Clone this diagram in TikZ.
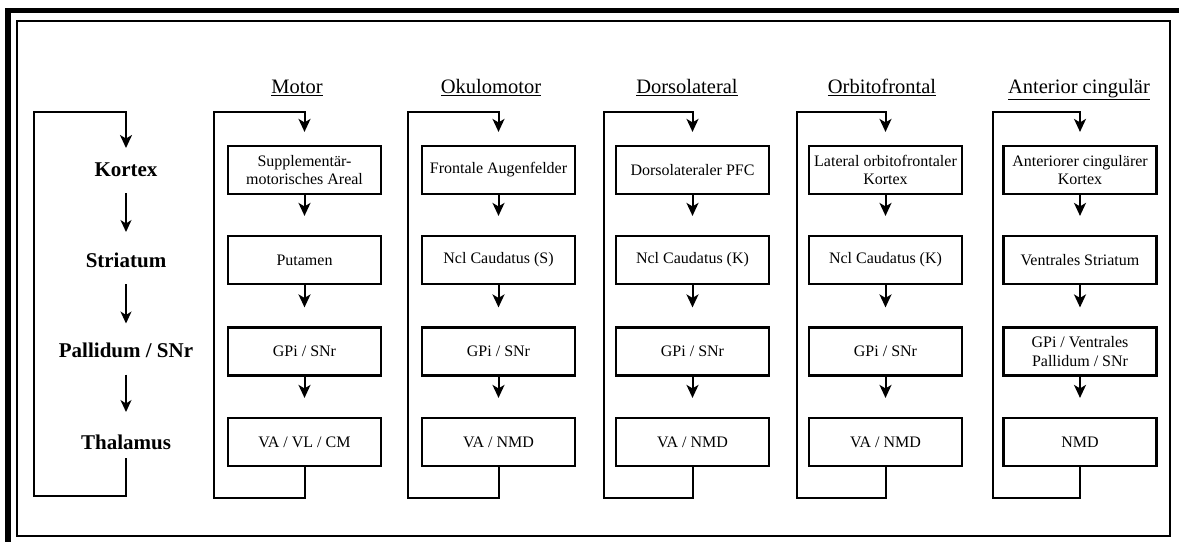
\documentclass[tikz,border=0pt]{standalone}
\usepackage{fontspec}
\setmainfont{Liberation Serif}
\usetikzlibrary{arrows.meta}
\newcommand\loopcol[9]{%
  \node[hdr] (#1h) at (#3,93.3) {\underline{#4}};
  \node[box] (#1a) at (#2,170) {#5};
  \node[box] (#1b) at (#2,260) {#6};
  \node[box] (#1c) at (#2,351.5) {#7};
  \node[box] (#1d) at (#2,442) {#8};
  \draw[flow, shorten >=19pt] (#1a) -- (#1b);
  \draw[flow, shorten >=19pt] (#1b) -- (#1c);
  \draw[flow, shorten >=19pt] (#1c) -- (#1d);
  \draw[flow, shorten >=13pt] (#1d.south) -- ++(0,31) -| (#9,112) -| (#1a.north);
}
\begin{document}
\begin{tikzpicture}[x=1pt,y=-1pt,
  box/.style={draw, line width=2.2pt, minimum width=153pt, minimum height=48pt,
    inner sep=2pt, align=center, font=\fontsize{16}{18.4}\selectfont},
  lbl/.style={font=\fontsize{21}{24}\selectfont\bfseries},
  hdr/.style={font=\fontsize{20.5}{24}\selectfont, anchor=base, inner sep=0pt},
  flow/.style={line width=2pt, -{Stealth[length=13pt,width=12pt,inset=3.5pt]}},
  thinflow/.style={line width=1.5pt, -{Stealth[length=12pt,width=11pt,inset=3.5pt]}}
]
\useasboundingbox (0,0) rectangle (1179,542);
% frame
\fill (5,8) rectangle (1179,13.3);
\fill (5,8) rectangle (11,542);
\draw[line width=2.2pt] (17,21) rectangle (1170,536);
% left column
\node[lbl] (kx) at (126,170) {Kortex};
\node[lbl] (st) at (126,260) {Striatum};
\node[lbl] (pa) at (126,350.5) {Pallidum / SNr};
\node[lbl] (th) at (126,442) {Thalamus};
\draw[thinflow, shorten <=23pt, shorten >=28pt] (kx.center) -- (st.center);
\draw[thinflow, shorten <=24pt, shorten >=27pt] (st.center) -- (pa.center);
\draw[thinflow, shorten <=24pt, shorten >=30pt] (pa.center) -- (th.center);
\draw[flow, shorten <=16pt, shorten >=22pt] (th.center) -- ++(0,54) -| (34,112) -| (kx.center);
% columns
\loopcol{m}{304.5}{297}{Motor}{Supplementär-\\motorisches Areal}{Putamen}{GPi / SNr}{VA / VL / CM}{214}
\loopcol{o}{498.5}{491}{Okulomotor}{Frontale Augenfelder}{Ncl Caudatus (S)}{GPi / SNr}{VA / NMD}{408}
\loopcol{d}{692.5}{687}{Dorsolateral}{Dorsolateraler PFC}{Ncl Caudatus (K)}{GPi / SNr}{VA / NMD}{604}
\loopcol{f}{885.5}{882}{Orbitofrontal}{Lateral orbitofrontaler\\Kortex}{Ncl Caudatus (K)}{GPi / SNr}{VA / NMD}{797}
\loopcol{c}{1080}{1079}{Anterior cingulär}{Anteriorer cingulärer\\Kortex}{Ventrales Striatum}{GPi / Ventrales\\Pallidum / SNr}{NMD}{993}
\end{tikzpicture}
\end{document}
